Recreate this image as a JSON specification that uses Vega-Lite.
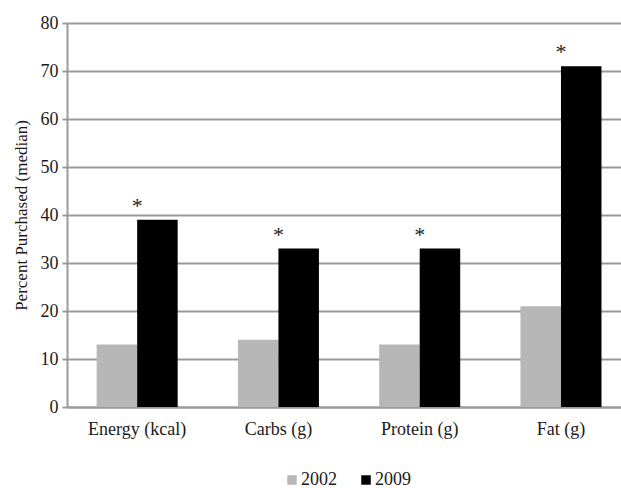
{
  "$schema": "https://vega.github.io/schema/vega-lite/v6.json",
  "width": 554,
  "height": 384,
  "autosize": {"type": "none"},
  "padding": {"left": 67, "top": 23, "right": 0, "bottom": 81},
  "background": "white",
  "config": {
    "font": "Liberation Serif",
    "view": {"stroke": null},
    "axis": {"labelFont": "Liberation Serif", "titleFont": "Liberation Serif", "labelColor": "#1a1a1a", "titleColor": "#1a1a1a"}
  },
  "data": {
    "values": [
      {"nutrient": "Energy (kcal)", "year": "2002", "value": 13, "sig": ""},
      {"nutrient": "Energy (kcal)", "year": "2009", "value": 39, "sig": "*"},
      {"nutrient": "Carbs (g)", "year": "2002", "value": 14, "sig": ""},
      {"nutrient": "Carbs (g)", "year": "2009", "value": 33, "sig": "*"},
      {"nutrient": "Protein (g)", "year": "2002", "value": 13, "sig": ""},
      {"nutrient": "Protein (g)", "year": "2009", "value": 33, "sig": "*"},
      {"nutrient": "Fat (g)", "year": "2002", "value": 21, "sig": ""},
      {"nutrient": "Fat (g)", "year": "2009", "value": 71, "sig": "*"}
    ]
  },
  "encoding": {
    "x": {
      "field": "nutrient",
      "type": "nominal",
      "sort": ["Energy (kcal)", "Carbs (g)", "Protein (g)", "Fat (g)"],
      "scale": {"paddingInner": 0.4265, "paddingOuter": 0.174, "align": 0.603},
      "axis": {
        "title": null,
        "labelAngle": 0,
        "labelFontSize": 18,
        "ticks": false,
        "labelPadding": 13,
        "domainColor": "#9a9a9a",
        "domainWidth": 2
      }
    },
    "y": {
      "field": "value",
      "type": "quantitative",
      "scale": {"domain": [0, 80]},
      "axis": {
        "title": "Percent Purchased (median)",
        "titleFontSize": 17,
        "titleFontWeight": "normal",
        "titlePadding": 10,
        "values": [0, 10, 20, 30, 40, 50, 60, 70, 80],
        "labelFontSize": 18,
        "labelPadding": 4,
        "tickSize": 5,
        "tickColor": "#9a9a9a",
        "tickWidth": 2,
        "domainColor": "#9a9a9a",
        "domainWidth": 2,
        "gridColor": "#9a9a9a",
        "gridWidth": 2
      }
    }
  },
  "layer": [
    {
      "mark": {"type": "bar"},
      "encoding": {
        "xOffset": {"field": "year", "type": "nominal", "scale": {"paddingInner": 0, "paddingOuter": 0}},
        "color": {
          "field": "year",
          "type": "nominal",
          "scale": {"domain": ["2002", "2009"], "range": ["#b7b7b7", "#000000"]},
          "legend": {
            "title": null,
            "orient": "none",
            "direction": "horizontal",
            "legendX": 216,
            "legendY": 448,
            "symbolType": "square",
            "symbolSize": 90,
            "symbolStrokeWidth": 0,
            "labelFontSize": 18,
            "labelFont": "Liberation Serif",
            "labelColor": "#1a1a1a",
            "labelOffset": 0,
            "columnPadding": 20
          }
        }
      }
    },
    {
      "mark": {"type": "text", "baseline": "bottom", "dy": -2, "fontSize": 22, "font": "Liberation Serif", "color": "#222222"},
      "encoding": {
        "text": {"field": "sig"}
      }
    }
  ]
}
